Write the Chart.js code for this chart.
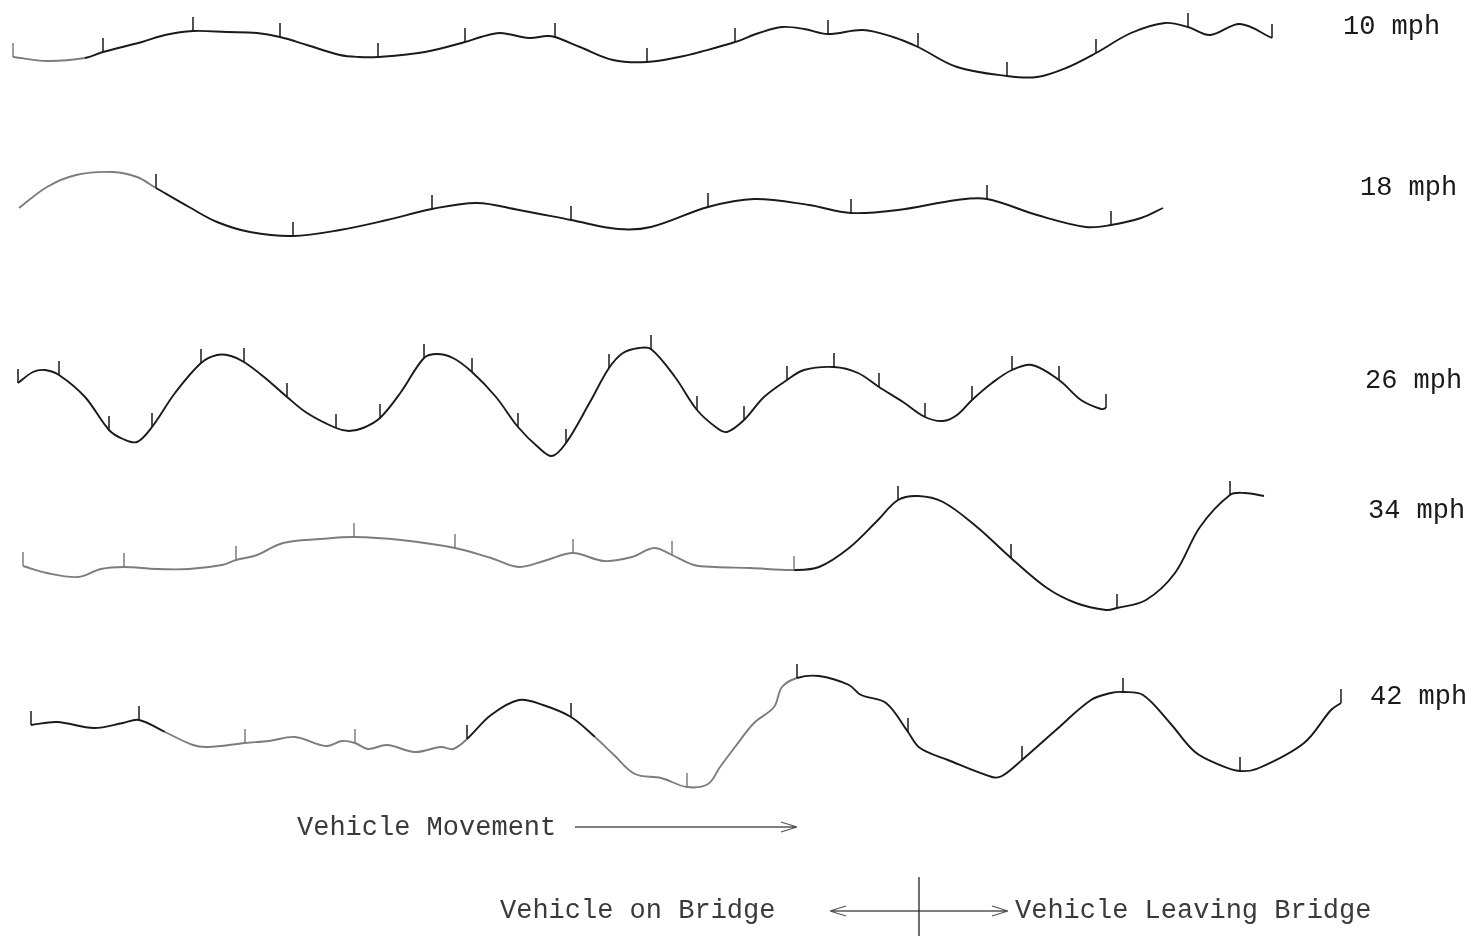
<!DOCTYPE html>
<html>
<head>
<meta charset="utf-8">
<script src="https://cdn.jsdelivr.net/npm/chart.js@4.4.0/dist/chart.umd.min.js"></script>
<style>
  html, body { margin: 0; padding: 0; background: #fff; }
  #wrap { width: 1476px; height: 936px; }
</style>
</head>
<body>
<div id="wrap"><canvas id="myChart" width="1476" height="936"></canvas></div>
<script>
const speeds = ['10 mph', '18 mph', '26 mph', '34 mph', '42 mph'];

// [distance along record, deflection (up = +)]
const trace10 = [[13,-7],[47,-11],[85,-8],[103,-2],[142,8],[165,15],[193,19],[227,18],[257,17],[280,13],
  [307,5],[340,-5],[359,-7],[378,-7],[425,-2],[465,8],[481,13],[500,17],[529,12],[547,14],[555,13],
  [580,3],[613,-10],[647,-12],[684,-6],[700,-2],[735,8],[759,17],[782,23],[804,21],[828,16],[863,20],
  [893,13],[918,3],[957,-17],[1007,-26],[1037,-27],[1066,-18],[1096,-3],[1131,17],[1165,27],[1188,23],
  [1210,15],[1240,26],[1272,12]];
const trace18 = [[19,-3],[47,18],[76,30],[113,33],[137,28],[156,17],[189,-2],[217,-17],[250,-27],[293,-31],
  [340,-25],[387,-15],[432,-4],[477,2],[519,-5],[571,-15],[618,-24],[651,-22],[708,-2],[754,6],[809,0],
  [851,-8],[898,-5],[957,5],[987,6],[1037,-10],[1086,-22],[1111,-20],[1141,-13],[1163,-3]];
const trace26 = [[18,12],[33,23],[45,25],[59,20],[85,-2],[109,-35],[123,-44],[137,-47],[152,-32],[175,2],
  [201,32],[217,40],[231,39],[244,33],[264,18],[287,-2],[307,-18],[336,-33],[349,-36],[363,-33],[380,-23],
  [401,3],[424,37],[437,41],[453,37],[472,23],[496,-2],[518,-32],[538,-52],[552,-61],[566,-48],[590,-7],
  [609,27],[623,42],[639,47],[651,46],[675,18],[697,-15],[717,-33],[727,-37],[744,-25],[764,-2],[787,15],
  [804,25],[834,28],[858,22],[879,8],[903,-7],[925,-22],[943,-26],[957,-20],[972,-5],[992,12],[1012,25],
  [1032,30],[1059,15],[1081,-5],[1101,-14],[1106,-13]];
const trace34 = [[23,-6],[47,-13],[78,-17],[101,-9],[124,-7],[156,-9],[189,-9],[222,-5],[236,0],[257,5],
  [283,17],[321,21],[354,23],[401,20],[455,12],[491,2],[519,-7],[547,0],[573,7],[604,-1],[632,3],[654,12],
  [672,5],[694,-5],[715,-7],[750,-8],[794,-10],[819,-7],[849,12],[878,40],[898,60],[918,64],[943,58],
  [977,33],[1011,2],[1047,-28],[1076,-43],[1106,-50],[1117,-48],[1146,-40],[1175,-13],[1200,33],[1230,65],
  [1245,67],[1264,64]];
const trace42 = [[31,10],[57,13],[94,7],[123,12],[139,15],[165,3],[193,-10],[208,-12],[245,-8],[269,-6],
  [295,-2],[326,-11],[342,-6],[355,-8],[368,-14],[387,-10],[415,-17],[441,-12],[453,-14],[467,-4],[491,20],
  [519,35],[543,30],[571,18],[595,-2],[614,-20],[635,-39],[661,-43],[687,-52],[708,-49],[720,-32],[735,-12],
  [754,12],[774,28],[782,48],[797,57],[819,59],[849,50],[861,40],[886,32],[908,3],[920,-13],[948,-25],
  [992,-42],[1002,-41],[1022,-25],[1056,5],[1091,35],[1111,42],[1123,43],[1143,40],[1170,12],[1195,-17],
  [1220,-30],[1240,-36],[1259,-33],[1304,-8],[1331,25],[1341,32]];

// positions of the little marks on each trace
const ticks10 = [13,103,193,280,378,465,555,647,735,828,918,1007,1096,1188,1272];
const ticks18 = [156,293,432,571,708,851,987,1111];
const ticks26 = [18,59,109,152,201,244,287,336,380,424,472,518,566,609,651,697,744,787,834,879,925,972,1012,1059,1106];
const ticks34 = [23,124,236,354,455,573,672,794,898,1011,1117,1230];
const ticks42 = [31,139,245,355,467,571,687,797,908,1022,1123,1240,1341];

const traces = [trace10, trace18, trace26, trace34, trace42];
const tickSets = [ticks10, ticks18, ticks26, ticks34, ticks42];
const axisIds = ['y10', 'y18', 'y26', 'y34', 'y42'];

// faint (pencil) stretches of each record
const faded = [[[0, 80]], [[0, 150]], [], [[0, 800]], [[170, 465], [585, 795]]];
const INK = '#1a1a1a';
const PENCIL = '#7d7d7d';

function toPoints(pairs) {
    return pairs.map(p => ({x: p[0], y: p[1]}));
}

function isFaded(x, ranges) {
    return ranges.some(r => x >= r[0] && x < r[1]);
}

const datasets = traces.map((t, i) => ({
    label: speeds[i],
    data: toPoints(t),
    yAxisID: axisIds[i],
    tickAt: tickSets[i],
    fade: faded[i],
    borderColor: INK,
    borderWidth: 1.9,
    pointRadius: 0,
    tension: 0.35,
    clip: false,
    segment: {
        borderColor: c => isFaded((c.p0.parsed.x + c.p1.parsed.x) / 2, faded[i]) ? PENCIL : INK
    }
}));

function yAxis(min, max, weight) {
    return {
        type: 'linear', display: false, position: 'right',
        stack: 'traces', stackWeight: weight, min: min, max: max
    };
}

// draws the short vertical marks standing on the traces
const tickMarks = {
    id: 'tickMarks',
    afterDatasetsDraw(chart, args, opts) {
        const ctx = chart.ctx;
        ctx.save();
        ctx.lineWidth = 1.5;
        chart.data.datasets.forEach((ds, i) => {
            const meta = chart.getDatasetMeta(i);
            meta.data.forEach((pt, j) => {
                const x = ds.data[j].x;
                if (!ds.tickAt.includes(x)) return;
                ctx.strokeStyle = isFaded(x, ds.fade) ? PENCIL : INK;
                ctx.beginPath();
                ctx.moveTo(pt.x, pt.y);
                ctx.lineTo(pt.x, pt.y - opts.length);
                ctx.stroke();
            });
        });
        ctx.restore();
    }
};

// speed labels at the right and the notes at the bottom
const notes = {
    id: 'notes',
    afterDraw(chart, args, opts) {
        const ctx = chart.ctx;
        const xs = chart.scales.x;
        ctx.save();
        ctx.font = opts.font;
        ctx.fillStyle = '#1a1a1a';
        ctx.textBaseline = 'middle';
        opts.labels.forEach((l, i) => {
            const ys = chart.scales[axisIds[i]];
            ctx.fillText(speeds[i], xs.getPixelForValue(l[0]), ys.getPixelForValue(l[1]));
        });

        ctx.fillStyle = '#3a3a3a';
        ctx.fillText('Vehicle Movement', 297, 828);
        ctx.fillText('Vehicle on Bridge', 500, 911);
        ctx.fillText('Vehicle Leaving Bridge', 1015, 911);

        ctx.strokeStyle = '#555';
        ctx.lineWidth = 1.3;
        ctx.beginPath();
        // movement arrow
        ctx.moveTo(575, 827); ctx.lineTo(797, 827);
        ctx.moveTo(797, 827); ctx.lineTo(781, 822);
        ctx.moveTo(797, 827); ctx.lineTo(781, 832);
        // on / leaving bridge arrows
        ctx.moveTo(830, 911); ctx.lineTo(1008, 911);
        ctx.moveTo(830, 911); ctx.lineTo(846, 906);
        ctx.moveTo(830, 911); ctx.lineTo(846, 916);
        ctx.moveTo(1008, 911); ctx.lineTo(992, 906);
        ctx.moveTo(1008, 911); ctx.lineTo(992, 916);
        ctx.stroke();
        ctx.strokeStyle = '#222';
        ctx.beginPath();
        ctx.moveTo(919, 877); ctx.lineTo(919, 936);
        ctx.stroke();
        ctx.restore();
    }
};

const ctx = document.getElementById('myChart').getContext('2d');
const myChart = new Chart(ctx, {
    type: 'line',
    data: { datasets: datasets },
    options: {
        responsive: false,
        animation: false,
        devicePixelRatio: 1,
        layout: { padding: 0 },
        scales: {
            x: { type: 'linear', display: false, min: 0, max: 1476 },
            y10: yAxis(-70, 50, 120),
            y18: yAxis(-95, 85, 180),
            y26: yAxis(-75, 95, 170),
            y34: yAxis(-80, 90, 170),
            y42: yAxis(-201, 95, 296)
        },
        plugins: {
            legend: { display: false },
            tooltip: { enabled: false },
            tickMarks: { length: 14 },
            notes: {
                font: '27px "Liberation Mono", "DejaVu Sans Mono", monospace',
                labels: [[1343, 23], [1360, 17], [1365, 14], [1368, 49], [1370, 38]]
            }
        }
    },
    plugins: [tickMarks, notes]
});
</script>
</body>
</html>
